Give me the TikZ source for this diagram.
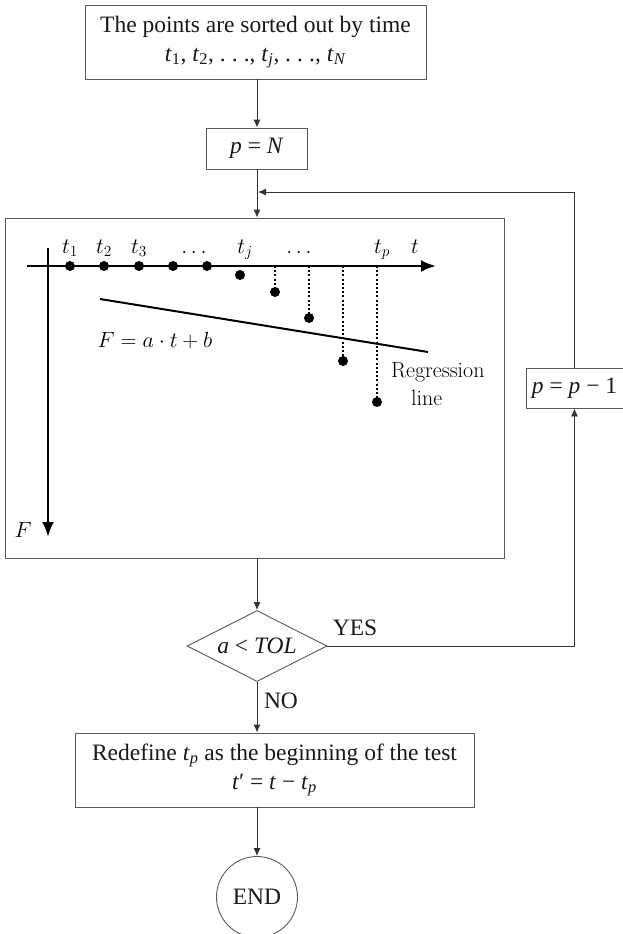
\RequirePackage{fix-cm}
\documentclass[tikz,border=0pt]{standalone}
\usepackage[no-math]{fontspec}
\newfontfamily\tms{Liberation Serif}
\usetikzlibrary{shapes.geometric,arrows.meta,calc}
\newcommand\bxfont{\tms\fontsize{23.5}{29}\selectfont}
\newcommand\plfont{\fontsize{22}{27}\selectfont}
\newcommand\tdots{.\kern.26em.\kern.26em.}
\begin{document}
\begin{tikzpicture}[x=1pt,y=-1pt,
  box/.style={draw=black!65, line width=0.9pt, inner sep=0pt, align=center,
    font=\bxfont, text=black!90},
  conn/.style={draw=black!80, line width=0.9pt, -{Latex[length=8pt,width=7pt]}},
  lbl/.style={font=\bxfont, text=black!90, inner sep=0pt},
  axis/.style={line width=2.6pt, -{Latex[length=15pt,width=12pt]}},
  dot/.style={circle, fill=black, inner sep=0pt, minimum size=10pt},
  drop/.style={line width=1.3pt, dash pattern=on 2pt off 2.2pt},
  reg/.style={line width=2pt},
  plbl/.style={font=\plfont, inner sep=0pt, anchor=base}]
\useasboundingbox (0,0) rectangle (623,934);

% flowchart boxes
\node[box, minimum width=341pt, minimum height=74pt] (sort) at (255.5,42)
  {The points are sorted out by time\\
   \textit{t}\textsubscript{1}, \textit{t}\textsubscript{2}, \tdots, \textit{t}\textsubscript{\textit{j}}, \tdots, \textit{t}\textsubscript{\textit{N}}};
\node[box, minimum width=101pt, minimum height=41pt] (pn) at (257,148.5)
  {\textit{p} = \textit{N}};
\node[draw=black!65, line width=0.9pt, inner sep=0pt,
  minimum width=499pt, minimum height=340pt] (plot) at (254.5,388) {};
\node[box, diamond, aspect=2, minimum width=140pt, minimum height=71pt] (test) at (257,646)
  {\textit{a} < \textit{TOL}};
\node[box, minimum width=97pt, minimum height=40pt] (dec) at (574.5,388)
  {\textit{p} = \textit{p} − 1};
\node[box, minimum width=399pt, minimum height=74pt] (redef) at (274.5,770)
  {Redefine \textit{t}\textsubscript{\textit{p}} as the beginning of the test\\
   \textit{t}′ = \textit{t} − \textit{t}\textsubscript{\textit{p}}};
\node[box, circle, minimum size=81pt] (end) at (257,897) {END};

% connectors
\coordinate (join) at (257,192);
\draw[conn] (pn.north |- sort.south) -- (pn.north);
\draw[conn] (pn.south) -- (pn.south |- plot.north);
\draw[conn] (plot.south -| test.north) -- (test.north);
\draw[conn] (test.east) -| (dec.south);
\draw[conn, shorten >=1pt] (dec.north) |- (join);
\draw[conn] (test.south) -- (test.south |- redef.north);
\draw[conn] (redef.south -| end.north) -- (end.north);
\node[lbl] (yes) at (355,628) {YES};
\node[lbl] (no) at (281,701) {NO};

% plot: axes
\draw[axis] (27,266) -- (436,266);
\draw[axis] (48,248) -- (48,537);
% points on the time axis
\foreach \x in {70,104,139,173,207} \node[dot] at (\x,266) {};
% points below the axis
\node[dot] at (240,275) {};
\foreach \x/\y in {275/292,309/318,343/361,377/402} {
  \draw[drop] (\x,266) -- (\x,\y);
  \node[dot] at (\x,\y) {};
}
% regression line
\draw[reg] (100,299) -- (428,352);
% plot labels
\node[plbl] at (70,253) {$t_1$};
\node[plbl] at (104,253) {$t_2$};
\node[plbl] at (139,253) {$t_3$};
\node[plbl] at (194,253) {$\dots$};
\node[plbl] at (245,253) {$t_j$};
\node[plbl] at (299,253) {$\dots$};
\node[plbl] at (382,253) {$t_p$};
\node[plbl] at (415,253) {$t$};
\node[plbl] at (155,347) {$F = a\cdot t + b$};
\node[plbl, anchor=base west] at (391,377) {Regression};
\node[plbl, anchor=base west] at (411,405) {line};
\node[plbl] at (23,537) {$F$};
\end{tikzpicture}
\end{document}
